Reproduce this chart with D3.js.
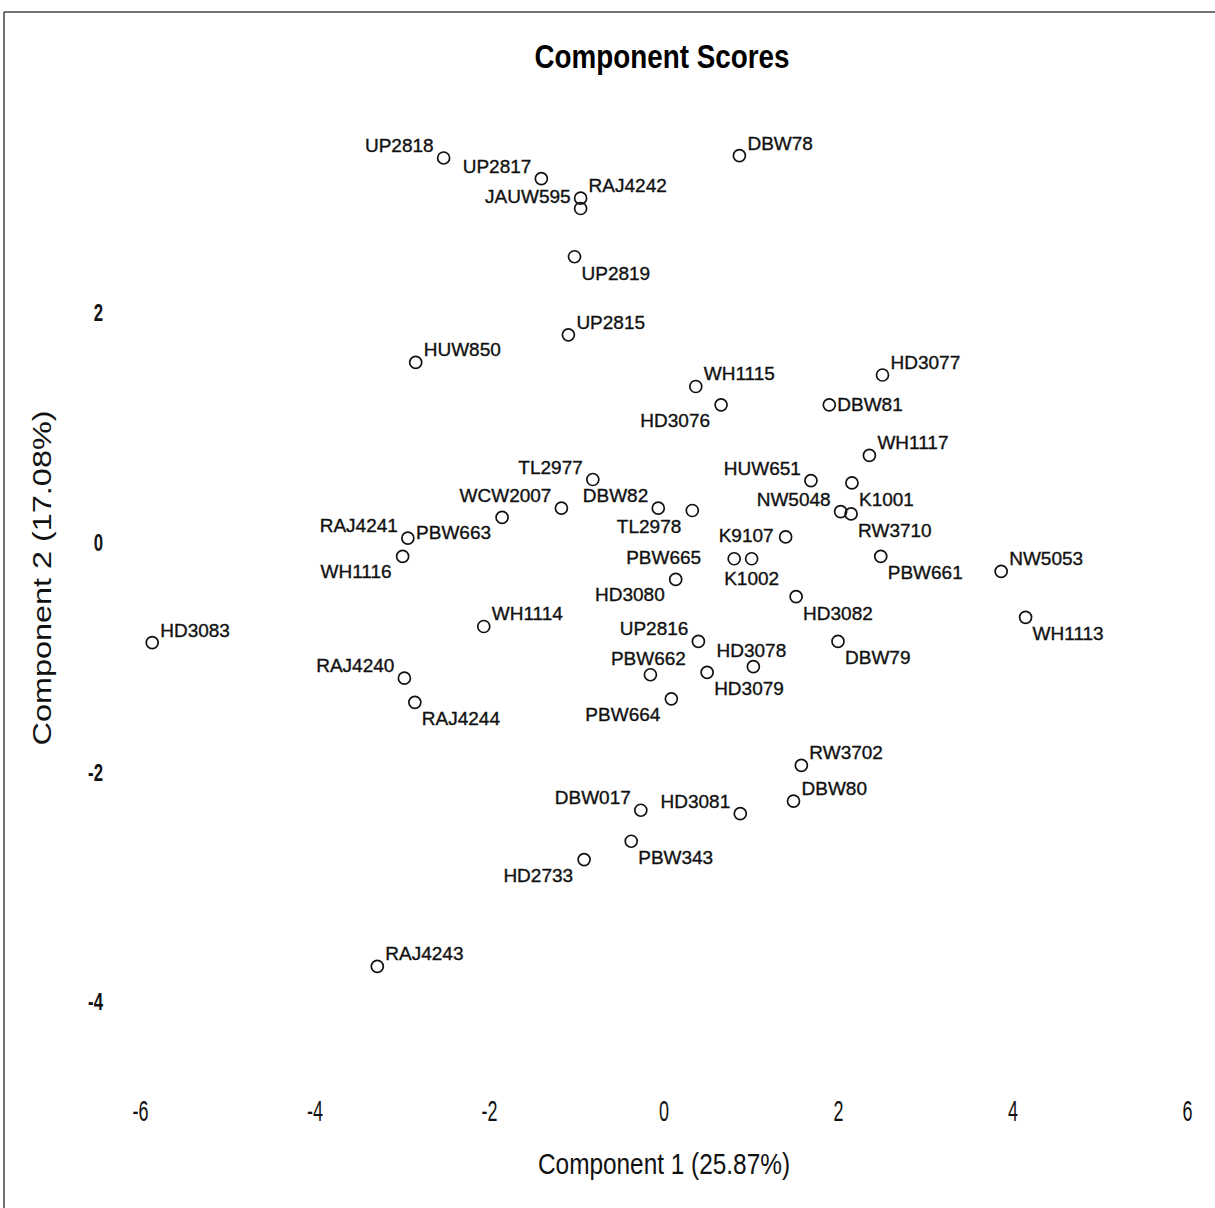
<!DOCTYPE html>
<html>
<head>
<meta charset="utf-8">
<script src="https://cdn.jsdelivr.net/npm/d3@7"></script>
<style>
  body { margin: 0; background: #fff; }
  svg { display: block; }
</style>
</head>
<body>
<div id="chart"></div>
<script>
// genotype names, PC1 / PC2 scores, and where each name sits around its point
const names = ["UP2818", "UP2817", "JAUW595", "RAJ4242", "DBW78", "UP2819", "UP2815", "HUW850",
    "WH1115", "HD3077", "HD3076", "DBW81", "WH1117", "TL2977", "HUW651", "WCW2007", "DBW82",
    "NW5048", "K1001", "RAJ4241", "PBW663", "TL2978", "K9107", "RW3710", "WH1116", "PBW665",
    "K1002", "PBW661", "NW5053", "HD3080", "HD3082", "HD3083", "WH1114", "UP2816", "WH1113",
    "HD3078", "RAJ4240", "PBW662", "DBW79", "HD3079", "RAJ4244", "PBW664", "RW3702", "DBW017",
    "HD3081", "DBW80", "PBW343", "HD2733", "RAJ4243"];
const comp1 = [-2.52, -1.40, -0.95, -0.95, 0.87, -1.02, -1.09, -2.84,
    0.37, 2.51, 0.66, 1.90, 2.36, -0.81, 1.69, -1.17, -0.06,
    2.03, 2.16, -2.93, -1.85, 0.33, 1.40, 2.15, -2.99, 0.81,
    1.01, 2.49, 3.87, 0.14, 1.52, -5.86, -2.06, 0.40, 4.15,
    1.03, -2.97, -0.15, 2.00, 0.50, -2.85, 0.09, 1.58, -0.26,
    0.88, 1.49, -0.37, -0.91, -3.28];
const comp2 = [3.35, 3.17, 2.91, 3.00, 3.37, 2.49, 1.81, 1.57,
    1.36, 1.46, 1.20, 1.20, 0.76, 0.55, 0.54, 0.30, 0.30,
    0.27, 0.52, 0.04, 0.22, 0.28, 0.05, 0.25, -0.12, -0.14,
    -0.14, -0.12, -0.25, -0.32, -0.47, -0.87, -0.73, -0.86, -0.65,
    -1.08, -1.18, -1.15, -0.86, -1.13, -1.39, -1.36, -1.94, -2.33,
    -2.36, -2.25, -2.60, -2.76, -3.69];
const labelSide = ["nw", "nw", "nw", "ne", "ne", "se", "ne", "ne",
    "ne", "ne", "sw", "e", "ne", "nw", "nw", "nw", "nw",
    "nw", "se", "nw", "sw", "sw", "w", "se", "sw", "ww",
    "s", "se", "ne", "sw", "se", "ne", "ne", "nw", "se",
    "n", "nw", "n", "se", "se", "se", "sw", "ne", "nw",
    "nw", "ne", "se", "sw", "ne"];
const xTicks = [-6, -4, -2, 0, 2, 4, 6];
const yTicks = [-4, -2, 0, 2];

const w = 1215, h = 1208;

const data = names.map((n, i) => ({ name: n, x: comp1[i], y: comp2[i], side: labelSide[i] }));

const xScale = d3.scaleLinear().domain([-6, 6]).range([140, 1187]);
const yScale = d3.scaleLinear().domain([-4, 2]).range([1002, 313]);

// offsets of the label from its circle: [dx, baseline dy, anchor]
const place = {
    ne: [8, -6, "start"], nw: [-10, -6, "end"],
    se: [7, 23, "start"], sw: [-11, 22, "end"],
    e: [8, 6, "start"], w: [-12, 5, "end"], ww: [-33, 5, "end"],
    n: [-2, -10, "middle"], s: [0, 26, "middle"]
};

const svg = d3.select("#chart")
    .append("svg")
    .attr("width", w)
    .attr("height", h);

// frame (only top and left edges show in the original)
svg.append("line").attr("x1", 4).attr("x2", w).attr("y1", 12).attr("y2", 12)
    .attr("stroke", "#444").attr("stroke-width", 1.5);
svg.append("line").attr("x1", 4).attr("x2", 4).attr("y1", 12).attr("y2", h)
    .attr("stroke", "#444").attr("stroke-width", 1.5);

svg.append("text")
    .attr("x", 662).attr("y", 68)
    .attr("text-anchor", "middle")
    .attr("font-family", "'Liberation Sans Narrow', 'Liberation Sans', Arial, sans-serif")
    .attr("font-weight", "bold")
    .attr("font-size", 33)
    .attr("textLength", 255)
    .attr("lengthAdjust", "spacingAndGlyphs")
    .text("Component Scores");

const xAxis = d3.axisBottom(xScale).tickValues(xTicks).tickSize(0).tickPadding(0)
    .tickFormat(d => d);
const gx = svg.append("g")
    .attr("transform", "translate(0,1100)")
    .call(xAxis);
gx.select(".domain").remove();
gx.selectAll("text")
    .attr("dy", "0.71em")
    .attr("transform", "scale(0.62,1)")
    .attr("fill", "#111")
    .attr("font-family", "'Liberation Sans', Arial, sans-serif")
    .attr("font-size", 29);

const yAxis = d3.axisLeft(yScale).tickValues(yTicks).tickSize(0).tickPadding(0)
    .tickFormat(d => d);
const gy = svg.append("g")
    .attr("transform", "translate(103,0)")
    .call(yAxis);
gy.select(".domain").remove();
gy.selectAll("text")
    .attr("transform", "scale(0.7,1)")
    .attr("fill", "#111")
    .attr("font-family", "'Liberation Sans', Arial, sans-serif")
    .attr("font-weight", "bold")
    .attr("font-size", 24);

svg.append("text")
    .attr("x", 664).attr("y", 1174)
    .attr("text-anchor", "middle")
    .attr("font-family", "'Liberation Sans Narrow', 'Liberation Sans', Arial, sans-serif")
    .attr("font-size", 29)
    .attr("textLength", 252)
    .attr("lengthAdjust", "spacingAndGlyphs")
    .attr("fill", "#111")
    .text("Component 1 (25.87%)");

svg.append("text")
    .attr("transform", "translate(51,578) rotate(-90)")
    .attr("text-anchor", "middle")
    .attr("font-family", "'Liberation Sans', Arial, sans-serif")
    .attr("font-size", 25)
    .attr("textLength", 335)
    .attr("lengthAdjust", "spacingAndGlyphs")
    .attr("fill", "#111")
    .text("Component 2 (17.08%)");

svg.selectAll("circle")
    .data(data)
    .enter()
    .append("circle")
    .attr("cx", d => xScale(d.x))
    .attr("cy", d => yScale(d.y))
    .attr("r", 6)
    .attr("fill", "none")
    .attr("stroke", "#111")
    .attr("stroke-width", 1.7);

svg.selectAll("text.lbl")
    .data(data)
    .enter()
    .append("text")
    .attr("class", "lbl")
    .attr("x", d => xScale(d.x) + place[d.side][0])
    .attr("y", d => yScale(d.y) + place[d.side][1])
    .attr("text-anchor", d => place[d.side][2])
    .attr("font-family", "'Liberation Sans', Arial, sans-serif")
    .attr("font-size", 19)
    .attr("fill", "#111")
    .attr("stroke", "#111")
    .attr("stroke-width", 0.35)
    .text(d => d.name);
</script>
</body>
</html>
